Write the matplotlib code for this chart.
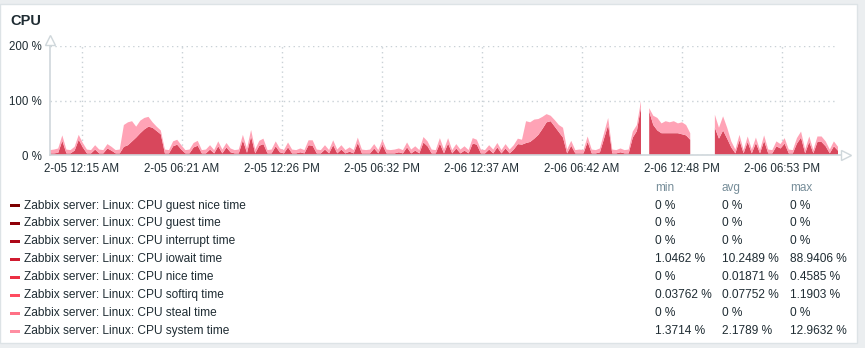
import numpy as np
import pandas as pd
import matplotlib
matplotlib.use("Agg")
import matplotlib.pyplot as plt
from matplotlib.lines import Line2D
from matplotlib.patches import Rectangle

nan = np.nan

# 15 minute samples, 2-04 10:19 PM .. 2-06 10:19 PM
start_time = "2024-02-04 22:19"
sample_freq = "15min"

iowait = [
    3, 3, 4, 26, 3, 3, 8, 28, 14, 3, 3, 10, 3, 3, 12, 8, 3, 3, 15, 18,
    25, 32, 40, 47, 52, 50, 44, 38, 3, 3, 16, 19, 10, 3, 3, 14, 17, 3, 3, 10,
    3, 16, 3, 14, 5, 3, 3, 27, 4, 34, 3, 17, 20, 3, 3, 16, 5, 3, 14, 3,
    3, 5, 3, 18, 17, 3, 3, 10, 3, 18, 3, 10, 3, 6, 3, 22, 3, 3, 3, 12,
    3, 19, 3, 3, 3, 5, 3, 14, 3, 8, 3, 23, 16, 3, 3, 21, 3, 21, 3, 12,
    3, 8, 3, 21, 19, 3, 3, 10, 3, 14, 3, 12, 3, 10, 20, 19, 22, 24, 30, 37,
    48, 60, 62, 52, 42, 32, 3, 17, 3, 3, 3, 24, 3, 3, 5, 30, 55, 3, 3, 5,
    3, 3, 32, 44, 88, nan, 80, 55, 45, 40, 40, 40, 40, 40, 38, 36, 28, nan, nan, nan,
    nan, nan, 50, 30, 45, 30, 14, 3, 27, 3, 24, 3, 22, 3, 26, 3, 3, 16, 12, 21,
    3, 3, 21, 32, 3, 24, 3, 24, 24, 16, 3, 16, 8,
]

system = [
    6, 7, 8, 10, 7, 6, 7, 9, 8, 7, 6, 8, 7, 6, 8, 7, 6, 7, 40, 42,
    37, 20, 23, 21, 18, 10, 8, 7, 7, 6, 9, 9, 8, 6, 7, 8, 9, 6, 7, 8,
    6, 9, 7, 8, 7, 6, 7, 10, 8, 12, 7, 9, 10, 6, 7, 9, 7, 6, 9, 7,
    6, 7, 6, 9, 10, 7, 6, 8, 6, 9, 7, 8, 6, 8, 6, 10, 7, 6, 7, 8,
    6, 9, 7, 6, 7, 7, 6, 9, 7, 8, 6, 10, 9, 7, 6, 10, 7, 10, 6, 8,
    7, 8, 6, 10, 9, 7, 6, 8, 7, 8, 6, 8, 7, 8, 10, 9, 40, 36, 35, 29,
    22, 15, 10, 12, 13, 18, 7, 9, 6, 7, 6, 10, 7, 6, 7, 10, 13, 7, 6, 7,
    6, 7, 11, 11, 11, nan, 6, 17, 23, 18, 22, 20, 22, 18, 22, 19, 12, nan, nan, nan,
    nan, nan, 24, 20, 26, 20, 11, 7, 10, 6, 10, 7, 10, 6, 10, 7, 6, 9, 8, 10,
    7, 6, 10, 11, 7, 10, 6, 10, 10, 9, 7, 9, 7,
]

tick_labels = ["2-05 12:15 AM", "2-05 06:21 AM", "2-05 12:26 PM", "2-05 06:32 PM",
               "2-06 12:37 AM", "2-06 06:42 AM", "2-06 12:48 PM", "2-06 06:53 PM"]

items = ["guest nice time", "guest time", "interrupt time", "iowait time",
         "nice time", "softirq time", "steal time", "system time"]
item_colors = ["#7c0000", "#8e0008", "#ad0818", "#d01b30",
               "#ec3044", "#ff4c60", "#ff7186", "#ff8ea2"]
min_vals = ["0 %", "0 %", "0 %", "1.0462 %", "0 %", "0.03762 %", "0 %", "1.3714 %"]
avg_vals = ["0 %", "0 %", "0 %", "10.2489 %", "0.01871 %", "0.07752 %", "0 %", "2.1789 %"]
max_vals = ["0 %", "0 %", "0 %", "88.9406 %", "0.4585 %", "1.1903 %", "0 %", "12.9632 %"]

W, H = 865, 348
plt.rcParams['font.family'] = ['Liberation Sans', 'DejaVu Sans']
fig = plt.figure(figsize=(W / 100, H / 100), dpi=100, facecolor="#ebeef0")

def fx(px):
    return px / W

def fy(py):
    return 1 - py / H

# white panel
fig.add_artist(Rectangle((fx(0), fy(343)), fx(857), fy(4) - fy(343), transform=fig.transFigure,
                         facecolor="white", edgecolor="#dde3e6", lw=1, zorder=0))

fig.text(fx(10), fy(21), "CPU", fontsize=10.5, fontweight="bold", color="#1f2c33", va="center")

times = pd.date_range(start_time, periods=len(iowait), freq=sample_freq)
io = np.array(iowait, dtype=float)
sy = np.array(system, dtype=float)

ax = fig.add_axes([fx(50), fy(155), fx(838) - fx(50), fy(46) - fy(155)])
ax.set_facecolor("none")
ax.fill_between(times, 0, io, color="#d8475c", lw=0, zorder=3)
ax.fill_between(times, io, io + sy, color="#ffa3b6", lw=0, zorder=3)

ax.set_xlim(times[0], times[-1])
ax.set_ylim(0, 200)
ax.set_yticks([0, 100, 200])
ax.set_yticklabels(["0 %", "100 %", "200 %"])
tick_pos = pd.to_datetime(["2024-" + s for s in tick_labels], format="%Y-%m-%d %I:%M %p")
ax.set_xticks(tick_pos)
ax.set_xticklabels(tick_labels)
ax.tick_params(length=0, labelsize=8.3, labelcolor="#1f2c33")
ax.tick_params(axis="x", pad=6)
ax.tick_params(axis="y", pad=6)
for s in ax.spines.values():
    s.set_visible(False)
ax.grid(True, color="#c9d1d6", ls=(0, (1, 2.5)), lw=1)
ax.set_axisbelow(True)

# axis lines with open arrowheads
axc = "#cfd7db"
fig.add_artist(Line2D([fx(50), fx(845)], [fy(155), fy(155)], transform=fig.transFigure, color=axc, lw=1.2, zorder=5))
fig.add_artist(Line2D([fx(50), fx(50)], [fy(155), fy(41)], transform=fig.transFigure, color=axc, lw=1.2, zorder=5))
fig.add_artist(Line2D([fx(846)], [fy(155)], transform=fig.transFigure, marker=">", ms=7,
                      mfc="white", mec=axc, mew=1, ls="none", zorder=6))
fig.add_artist(Line2D([fx(50)], [fy(40)], transform=fig.transFigure, marker="^", ms=7,
                      mfc="white", mec=axc, mew=1, ls="none", zorder=6))

# legend table
for col_x, head in zip([655, 722, 790], ["min", "avg", "max"]):
    fig.text(fx(col_x), fy(188), head, fontsize=8.5, color="#768d99", va="center")
for i, name in enumerate(items):
    yc = 205.5 + i * 17.95
    fig.add_artist(Rectangle((fx(10), fy(yc + 1.5)), fx(10), fy(yc - 1.5) - fy(yc + 1.5),
                             transform=fig.transFigure, facecolor=item_colors[i], lw=0))
    fig.text(fx(24), fy(yc), "Zabbix server: Linux: CPU " + name, fontsize=8.6, color="#1f2c33", va="center")
    fig.text(fx(655), fy(yc), min_vals[i], fontsize=8.6, color="#1f2c33", va="center")
    fig.text(fx(722), fy(yc), avg_vals[i], fontsize=8.6, color="#1f2c33", va="center")
    fig.text(fx(790), fy(yc), max_vals[i], fontsize=8.6, color="#1f2c33", va="center")

fig.savefig("out.png", dpi=100, facecolor=fig.get_facecolor())
